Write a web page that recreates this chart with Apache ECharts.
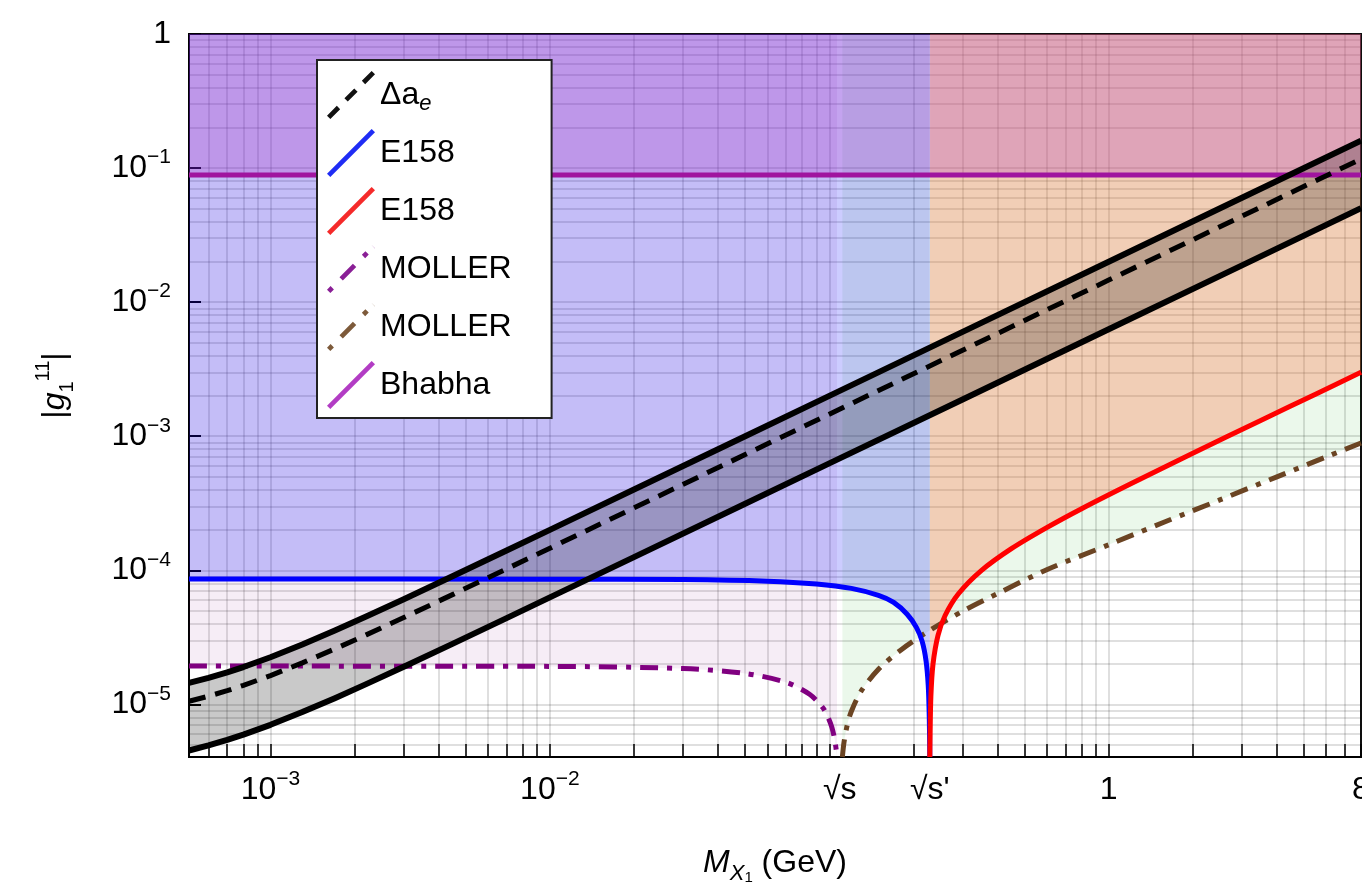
<!DOCTYPE html>
<html>
<head>
<meta charset="utf-8">
<script src="https://cdn.jsdelivr.net/npm/echarts@6/dist/echarts.min.js"></script>
<style>
  html, body { margin: 0; padding: 0; background: #fff; }
  #chart { width: 1362px; height: 882px; }
</style>
</head>
<body>
<div id="chart"></div>
<script>
// axis ranges: mass in GeV, coupling |g|
const xMin = 5.11e-4;
const xMax = 8;
const yMin = 4.05e-6;
const yMax = 1;

const sqrtS = 0.109;   // MOLLER threshold
const sqrtSp = 0.229;  // E158 threshold

const xLabelValues = [1e-3, 1e-2, sqrtS, sqrtSp, 1, 8];
const xLabelTexts = ['10^−3', '10^−2', '√s', '√s\'', '1', '8'];
const yLabelValues = [1e-5, 1e-4, 1e-3, 1e-2, 1e-1, 1];
const yLabelTexts = ['10^−5', '10^−4', '10^−3', '10^−2', '10^−1', '1'];
const decades = [1e-6, 1e-5, 1e-4, 1e-3, 1e-2, 1e-1, 1];
const mantissas = [1, 2, 3, 4, 5, 6, 7, 8, 9];

// Δa_e band
const bandM = [5.11e-4, 6e-4, 7e-4, 8e-4, 1e-3, 1.3e-3, 1.7e-3, 2.2e-3, 3e-3, 4.5e-3, 7e-3, 0.01, 0.02, 0.05, 0.1, 0.3, 1, 3, 8];
const bandHi = [1.445e-5, 1.576e-5, 1.733e-5, 1.899e-5, 2.246e-5, 2.794e-5, 3.55e-5, 4.517e-5, 6.086e-5, 9.058e-5, 1.404e-4, 2.003e-4, 4.0e-4, 1.0e-3, 2.0e-3, 6.0e-3, 0.020, 0.060, 0.160];
const bandMid = [1.055e-5, 1.151e-5, 1.265e-5, 1.386e-5, 1.64e-5, 2.039e-5, 2.592e-5, 3.298e-5, 4.443e-5, 6.612e-5, 1.025e-4, 1.462e-4, 2.92e-4, 7.3e-4, 1.46e-3, 4.38e-3, 0.0146, 0.0438, 0.1168];
const bandLo = [4.53e-6, 4.94e-6, 5.43e-6, 5.95e-6, 7.04e-6, 8.76e-6, 1.113e-5, 1.416e-5, 1.908e-5, 2.84e-5, 4.4e-5, 6.28e-5, 1.254e-4, 3.135e-4, 6.27e-4, 1.881e-3, 6.27e-3, 0.0188, 0.0502];

// E158, below and above sqrt(s')
const e158LowM = [5.11e-4, 0.01, 0.03, 0.06, 0.09, 0.12, 0.15, 0.17, 0.19, 0.205, 0.215, 0.222, 0.226, 0.228, 0.229];
const e158LowG = [8.6e-5, 8.59e-5, 8.53e-5, 8.3e-5, 7.91e-5, 7.33e-5, 6.5e-5, 5.76e-5, 4.7e-5, 3.75e-5, 2.95e-5, 2.11e-5, 1.39e-5, 8.0e-6, 4.05e-6];
const e158HighM = [0.229, 0.2295, 0.231, 0.235, 0.245, 0.26, 0.29, 0.35, 0.45, 0.6, 0.8, 1.2, 2, 3.5, 5.5, 8];
const e158HighG = [4.05e-6, 5.7e-6, 1.14e-5, 1.98e-5, 3.27e-5, 4.62e-5, 6.68e-5, 9.94e-5, 1.455e-4, 2.08e-4, 2.88e-4, 4.42e-4, 7.46e-4, 1.31e-3, 2.06e-3, 3.0e-3];

// MOLLER, below and above sqrt(s)
const mollerLowM = [5.11e-4, 0.01, 0.03, 0.05, 0.07, 0.085, 0.095, 0.099, 0.102, 0.104, 0.1055, 0.1066];
const mollerLowG = [1.93e-5, 1.92e-5, 1.85e-5, 1.7e-5, 1.46e-5, 1.19e-5, 9.4e-6, 8.0e-6, 6.8e-6, 5.78e-6, 4.85e-6, 4.05e-6];
const mollerHighM = [0.1114, 0.113, 0.116, 0.12, 0.13, 0.15, 0.18, 0.23, 0.3, 0.4, 0.6, 1, 1.6, 2.5, 4, 6, 8];
const mollerHighG = [4.05e-6, 5.27e-6, 7.03e-6, 8.89e-6, 1.254e-5, 1.825e-5, 2.536e-5, 3.586e-5, 4.95e-5, 6.7e-5, 1.01e-4, 1.55e-4, 2.31e-4, 3.35e-4, 4.98e-4, 7.0e-4, 8.9e-4];

// Bhabha
const bhabhaM = [5.11e-4, 8];
const bhabhaG = [0.0888, 0.0888];

const FONT = 'Liberation Sans';
const L = Math.log10;

const pts = (ms, gs) => ms.map((m, i) => [L(m), L(gs[i])]);

const minorValues = (lo, hi) => {
  const out = [];
  decades.forEach((d) => mantissas.forEach((k) => {
    const v = d * k;
    if (v >= lo * 0.999 && v <= hi * 1.001) out.push(L(v));
  }));
  return out;
};

// 10^−3 -> rich text with a superscript
const richPow = (t) => {
  const i = t.indexOf('^');
  return i < 0 ? '{b|' + t + '}' : '{b|' + t.slice(0, i) + '}{s|' + t.slice(i + 1) + '}';
};
const labelFor = (values, texts) => (v) => {
  const j = values.findIndex((x) => Math.abs(L(x) - v) < 1e-6);
  return j < 0 ? '' : richPow(texts[j]);
};

const fill = (name, ms, gs, color, smooth) => ({
  name, type: 'line', data: pts(ms, gs), symbol: 'none', z: 1, silent: true,
  smooth: smooth || false,
  lineStyle: { width: 0, opacity: 0 },
  areaStyle: { origin: 'end', color, opacity: 1 },
});

const line = (name, ms, gs, color, width, type, smooth) => ({
  name, type: 'line', data: pts(ms, gs), symbol: 'none', z: 3, silent: true,
  smooth: smooth || false,
  lineStyle: { color, width, type: type || 'solid', cap: 'butt', join: 'round' },
  itemStyle: { color },
});

// legend icon: a diagonal stroke cut into pieces
const diag = (segs) => {
  const S = 48, h = 1.8;
  let p = '';
  segs.forEach(([a, b]) => {
    const x0 = a * S, y0 = S - a * S, x1 = b * S, y1 = S - b * S;
    p += `M${x0 - h},${y0 - h}L${x1 - h},${y1 - h}L${x1 + h},${y1 + h}L${x0 + h},${y0 + h}Z`;
  });
  return 'path://' + p;
};

const legendItems = [
  { name: 'Δa_e', icon: diag([[0, 0.22], [0.39, 0.61], [0.78, 1]]), color: '#111' },
  { name: 'E158', icon: diag([[0, 1]]), color: '#1f2cf5' },
  { name: 'E158 ', icon: diag([[0, 1]]), color: '#f52a2a' },
  { name: 'MOLLER', icon: diag([[0, 0.08], [0.28, 0.58], [0.78, 0.86], [0.999, 1]]), color: '#8a1f96' },
  { name: 'MOLLER ', icon: diag([[0, 0.08], [0.28, 0.58], [0.78, 0.86], [0.999, 1]]), color: '#7d5a3a' },
  { name: 'Bhabha', icon: diag([[0, 1]]), color: '#b23cc4' },
];

// grey band between the two solid black curves
const bandSeries = {
  name: 'band', type: 'custom', z: 2, silent: true, clip: true,
  data: [[L(bandM[0]), L(bandLo[0])]],
  renderItem: (params, api) => {
    const upper = bandM.map((m, i) => api.coord([L(m), L(bandHi[i])]));
    const lower = bandM.map((m, i) => api.coord([L(m), L(bandLo[i])])).reverse();
    return { type: 'polygon', shape: { points: upper.concat(lower) }, style: { fill: 'rgba(0,0,0,0.21)' } };
  },
};

const chart = echarts.init(document.getElementById('chart'), null, { renderer: 'canvas' });

chart.setOption({
  animation: false,
  backgroundColor: '#fff',
  textStyle: { fontFamily: FONT },
  grid: {
    left: 189, right: 1, top: 34, bottom: 125,
    containLabel: false, outerBoundsMode: 'none',
    show: true, borderColor: '#111', borderWidth: 2, backgroundColor: 'transparent',
  },
  legend: {
    orient: 'vertical', left: 317, top: 60,
    padding: [11, 40, 9, 10], itemGap: 10, itemWidth: 48, itemHeight: 48,
    backgroundColor: '#fff', borderColor: '#222', borderWidth: 2,
    data: legendItems.map((d) => ({ name: d.name, icon: d.icon, itemStyle: { color: d.color, borderWidth: 0 } })),
    formatter: (n) => (n === 'Δa_e' ? '{t|Δa}{e|e}' : n.trim()),
    textStyle: {
      fontFamily: FONT, fontSize: 32, color: '#000',
      rich: {
        t: { fontFamily: FONT, fontSize: 32, color: '#000', lineHeight: 40 },
        e: { fontFamily: FONT, fontSize: 22, fontStyle: 'italic', color: '#000', verticalAlign: 'bottom', lineHeight: 30 },
      },
    },
    selectedMode: false,
  },
  xAxis: {
    type: 'value',
    min: L(xMin), max: L(xMax),
    name: '{i|M}{x|X}{one|1} (GeV)',
    nameLocation: 'middle', nameGap: 84,
    nameTextStyle: {
      fontFamily: FONT, fontSize: 32, color: '#000',
      rich: {
        i: { fontFamily: FONT, fontSize: 32, fontStyle: 'italic', color: '#000', lineHeight: 44 },
        x: { fontFamily: FONT, fontSize: 22, fontStyle: 'italic', color: '#000', verticalAlign: 'bottom', lineHeight: 34 },
        one: { fontFamily: FONT, fontSize: 15, color: '#000', verticalAlign: 'bottom', lineHeight: 24 },
      },
    },
    axisLine: { onZero: false, lineStyle: { color: '#000', width: 2 } },
    axisTick: { inside: true, length: 13, customValues: minorValues(xMin, xMax), lineStyle: { color: '#000', width: 1.5 } },
    axisLabel: {
      customValues: xLabelValues.map(L), margin: 12, alignMaxLabel: 'center',
      formatter: labelFor(xLabelValues, xLabelTexts),
      rich: {
        b: { fontFamily: FONT, fontSize: 32, color: '#000', lineHeight: 42 },
        s: { fontFamily: FONT, fontSize: 21, color: '#000', verticalAlign: 'top', lineHeight: 26 },
      },
    },
    splitLine: { show: true, lineStyle: { color: 'rgba(0,0,0,0.17)', width: 1.5 } },
  },
  yAxis: [
    {
      type: 'value',
      min: L(yMin), max: L(yMax),
      name: '|{g|g}{lo|1}{hi|11}|',
      nameLocation: 'middle', nameGap: 112, nameRotate: 90,
      nameTextStyle: {
        fontFamily: FONT, fontSize: 32, color: '#000', padding: [0, 0, 0, 20],
        rich: {
          g: { fontFamily: FONT, fontSize: 32, fontStyle: 'italic', color: '#000', lineHeight: 44 },
          lo: { fontFamily: FONT, fontSize: 20, color: '#000', verticalAlign: 'bottom', lineHeight: 34 },
          hi: { fontFamily: FONT, fontSize: 20, color: '#000', verticalAlign: 'top', lineHeight: 26 },
        },
      },
      axisLine: { onZero: false, lineStyle: { color: '#000', width: 2 } },
      axisTick: { inside: true, length: 12, customValues: yLabelValues.map(L), lineStyle: { color: '#000', width: 2 } },
      axisLabel: {
        customValues: yLabelValues.map(L), margin: 18,
        formatter: labelFor(yLabelValues, yLabelTexts),
        rich: {
          b: { fontFamily: FONT, fontSize: 32, color: '#000', lineHeight: 42 },
          s: { fontFamily: FONT, fontSize: 21, color: '#000', verticalAlign: 'top', lineHeight: 26 },
        },
      },
      splitLine: { show: false },
    },
    {
      // minor grid for the log scale
      type: 'value', gridIndex: 0, position: 'left',
      min: L(yMin), max: L(yMax),
      axisLine: { show: false }, axisLabel: { show: false },
      axisTick: { show: false, customValues: minorValues(yMin, yMax) },
      splitLine: { show: true, lineStyle: { color: 'rgba(0,0,0,0.17)', width: 1.5 } },
    },
  ],
  series: [
    fill('mollerHighFill', mollerHighM, mollerHighG, 'rgba(0,160,0,0.08)', 0.3),
    fill('mollerLowFill', mollerLowM, mollerLowG, 'rgba(128,0,128,0.07)', 0.3),
    fill('e158LowFill', e158LowM, e158LowG, 'rgba(0,0,255,0.2)', 0.3),
    fill('e158HighFill', e158HighM, e158HighG, 'rgba(255,110,60,0.3)', 0.3),
    fill('bhabhaFill', bhabhaM, bhabhaG, 'rgba(170,40,190,0.25)'),
    bandSeries,
    line('Bhabha', bhabhaM, bhabhaG, '#a0149f', 5),
    line('MOLLER', mollerLowM, mollerLowG, '#800080', 5, [18, 9, 5, 9], 0.3),
    line('MOLLER ', mollerHighM, mollerHighG, '#6b4423', 5, [18, 9, 5, 9], 0.3),
    line('E158', e158LowM, e158LowG, '#0000ff', 5, null, 0.3),
    line('E158 ', e158HighM, e158HighG, '#ff0000', 5, null, 0.3),
    line('Δa_e', bandM, bandMid, '#000', 5, [17, 10]),
    line('bandHi', bandM, bandHi, '#000', 6),
    line('bandLo', bandM, bandLo, '#000', 6),
  ],
});
</script>
</body>
</html>
